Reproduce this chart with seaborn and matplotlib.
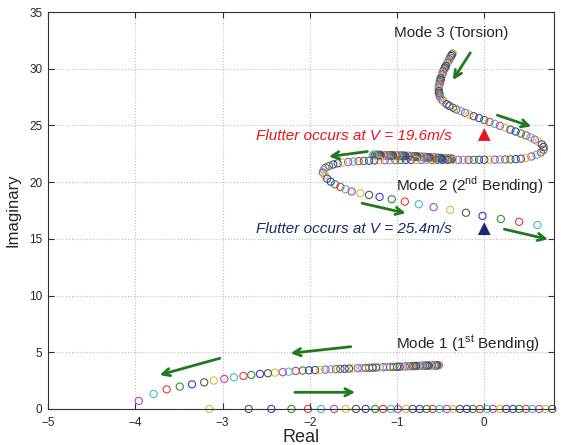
import pandas as pd
import numpy as np
import matplotlib
matplotlib.use('Agg')
import matplotlib.pyplot as plt
import seaborn as sns

sns.set_theme(style='white')
plt.rcParams['font.family'] = ['Liberation Sans', 'DejaVu Sans']
plt.rcParams['mathtext.fontset'] = 'custom'
plt.rcParams['mathtext.rm'] = 'Liberation Sans'

# ---- datos ----
# Modo 1 (1a flexión): rama compleja (de derecha a izquierda) y luego eje real
modo1_x = [-0.52, -0.53, -0.54, -0.55, -0.56, -0.57, -0.58, -0.60, -0.62, -0.64,
           -0.66, -0.68, -0.70, -0.72, -0.74, -0.76, -0.78, -0.80, -0.82, -0.85,
           -0.88, -0.91, -0.94, -0.97, -1.00, -1.04, -1.08, -1.12, -1.16, -1.20,
           -1.24, -1.28, -1.32, -1.36, -1.40, -1.45, -1.50, -1.55, -1.60, -1.65,
           -1.70, -1.76, -1.82, -1.88, -1.94, -2.01, -2.08, -2.16, -2.24, -2.31,
           -2.40, -2.48, -2.57, -2.67, -2.76, -2.87, -2.98, -3.10, -3.21, -3.35,
           -3.49, -3.64, -3.79, -3.96]
modo1_y = [3.86, 3.86, 3.86, 3.85, 3.85, 3.85, 3.84, 3.84, 3.83, 3.83,
           3.82, 3.82, 3.81, 3.81, 3.80, 3.80, 3.79, 3.79, 3.78, 3.77,
           3.76, 3.75, 3.74, 3.73, 3.72, 3.71, 3.70, 3.69, 3.68, 3.67,
           3.66, 3.64, 3.63, 3.62, 3.60, 3.59, 3.57, 3.56, 3.54, 3.53,
           3.51, 3.49, 3.47, 3.45, 3.43, 3.41, 3.39, 3.35, 3.29, 3.24,
           3.20, 3.15, 3.09, 3.00, 2.91, 2.79, 2.65, 2.50, 2.35, 2.17,
           1.97, 1.73, 1.32, 0.71]
real_x = [-3.15, -2.70, -2.44, -2.21, -2.02, -1.87, -1.72, -1.59, -1.47, -1.36,
          -1.25, -1.16, -1.07, -0.99, -0.90, -0.82, -0.74, -0.66, -0.59, -0.51,
          -0.43, -0.36, -0.28, -0.20, -0.13, -0.05, 0.03, 0.10, 0.18, 0.25,
          0.33, 0.40, 0.48, 0.55, 0.63, 0.70, 0.78]
real_y = [0.0] * len(real_x)

# Modo 3 (torsión) -> vuelta -> rama que cruza en V = 25.4
modo3_x = [-0.36, -0.37, -0.38, -0.39, -0.40, -0.41, -0.42, -0.43, -0.44, -0.45,
           -0.46, -0.47, -0.48, -0.48, -0.49, -0.50, -0.50, -0.51, -0.51, -0.52,
           -0.52, -0.52, -0.52, -0.52, -0.51, -0.51, -0.50,
           -0.48, -0.46, -0.43, -0.40, -0.36, -0.32, -0.27, -0.22, -0.17, -0.12,
           -0.06, 0.00, 0.06, 0.12, 0.18, 0.24, 0.30, 0.36, 0.42, 0.48,
           0.53, 0.58, 0.62, 0.66, 0.68, 0.68, 0.65, 0.60, 0.54, 0.48,
           0.42, 0.36, 0.30, 0.24, 0.18, 0.12, 0.06, 0.00, -0.06, -0.12,
           -0.18, -0.24, -0.30, -0.36, -0.42, -0.48, -0.54, -0.60, -0.66, -0.72,
           -0.78, -0.84, -0.90, -0.96, -1.02, -1.08, -1.14, -1.20, -1.26, -1.32,
           -1.38, -1.44, -1.50, -1.56, -1.62, -1.68, -1.73, -1.78, -1.82, -1.84,
           -1.85, -1.83, -1.80, -1.76, -1.71, -1.65, -1.59, -1.52, -1.42, -1.32,
           -1.20, -1.06, -0.91, -0.75, -0.58, -0.39, -0.21, -0.02, 0.19, 0.40,
           0.61]
modo3_y = [31.36, 31.25, 31.12, 30.98, 30.84, 30.70, 30.55, 30.40, 30.25, 30.10,
           29.95, 29.80, 29.64, 29.48, 29.32, 29.16, 29.00, 28.84, 28.68, 28.52,
           28.36, 28.20, 28.04, 27.88, 27.72, 27.56, 27.40,
           27.22, 27.05, 26.88, 26.72, 26.56, 26.41, 26.26, 26.11, 25.96, 25.81,
           25.65, 25.48, 25.31, 25.14, 24.97, 24.80, 24.63, 24.46, 24.29, 24.12,
           23.94, 23.75, 23.55, 23.33, 23.10, 22.86, 22.62, 22.42, 22.26, 22.14,
           22.07, 22.03, 22.01, 22.00, 21.99, 21.98, 21.98, 21.97, 21.97, 21.96,
           21.96, 21.96, 21.96, 21.96, 21.96, 21.96, 21.96, 21.96, 21.96, 21.96,
           21.96, 21.96, 21.96, 21.95, 21.95, 21.94, 21.93, 21.92, 21.91, 21.89,
           21.87, 21.85, 21.82, 21.78, 21.73, 21.66, 21.56, 21.43, 21.27, 21.10,
           20.85, 20.60, 20.30, 20.04, 19.80, 19.58, 19.37, 19.18, 19.02, 18.87,
           18.70, 18.49, 18.28, 18.05, 17.79, 17.55, 17.30, 17.02, 16.75, 16.50,
           16.22]

# Modo 2 (2a flexión): nube densa en V baja
modo2_x = [-0.37, -0.39, -0.41, -0.43, -0.45, -0.47, -0.49, -0.51, -0.53, -0.55,
           -0.57, -0.59, -0.61, -0.63, -0.65, -0.67, -0.69, -0.71, -0.73, -0.75,
           -0.77, -0.79, -0.81, -0.83, -0.85, -0.87, -0.89, -0.91, -0.93, -0.95,
           -0.97, -0.99, -1.01, -1.03, -1.05, -1.07, -1.09, -1.11, -1.13, -1.15,
           -1.17, -1.19, -1.21, -1.23, -1.25, -1.27]
modo2_y = [22.05, 22.06, 22.07, 22.08, 22.09, 22.10, 22.11, 22.12, 22.13, 22.14,
           22.15, 22.16, 22.17, 22.18, 22.19, 22.20, 22.21, 22.22, 22.23, 22.24,
           22.25, 22.26, 22.27, 22.28, 22.29, 22.30, 22.31, 22.31, 22.32, 22.32,
           22.33, 22.33, 22.34, 22.34, 22.35, 22.35, 22.36, 22.36, 22.37, 22.37,
           22.38, 22.38, 22.39, 22.39, 22.40, 22.40]

# puntos de flameo (cruce del eje imaginario)
flutter_x = [0.0, 0.0]
flutter_y = [24.2, 15.9]
flutter_txt = ['Flutter occurs at V = 19.6m/s', 'Flutter occurs at V = 25.4m/s']

# flechas verdes (inicio, fin)
flechas = [((-0.16, 31.4), (-0.36, 29.0)),
           ((0.15, 25.9), (0.54, 24.9)),
           ((-1.34, 22.7), (-1.78, 22.25)),
           ((-1.40, 18.14), (-0.90, 17.26)),
           ((0.23, 15.85), (0.73, 14.96)),
           ((-1.53, 5.49), (-2.22, 4.91)),
           ((-3.03, 4.47), (-3.72, 3.0)),
           ((-2.17, 1.47), (-1.48, 1.47))]

# colores estilo MATLAB (b, g, r, c, m, y, k)
ciclo = ['#3a3ad0', '#2e8f2e', '#e03a3a', '#3cc0c0', '#c040c0', '#c8c43c', '#555555']

fig = plt.figure(figsize=(5.61, 4.45), dpi=100)
ax = fig.add_axes([0.0856, 0.081, 0.902, 0.892])


def serie(xs, ys, offset, clip=True, lw=0.8):
    d = pd.DataFrame({'x': xs, 'y': ys})
    d['c'] = (np.arange(len(d)) + offset) % 7
    n0 = len(ax.collections)
    sns.scatterplot(data=d, x='x', y='y', hue='c', palette=dict(enumerate(ciclo)),
                    marker='o', s=27, linewidth=lw, legend=False, ax=ax)
    coll = ax.collections[n0]
    coll.set_edgecolors(coll.get_facecolors())
    coll.set_facecolors('none')
    coll.set_clip_on(clip)


# modo 1: el último punto complejo es magenta (4)
serie(modo1_x, modo1_y, (4 - (len(modo1_x) - 1)) % 7)
serie(real_x, real_y, 5, clip=False)
serie(modo2_x, modo2_y, 0, lw=1.1)
# modo 3: último punto cian (3)
serie(modo3_x, modo3_y, (3 - (len(modo3_x) - 1)) % 7)

# triángulos de flameo
tri = pd.DataFrame({'x': flutter_x, 'y': flutter_y, 'k': ['a', 'b']})
sns.scatterplot(data=tri, x='x', y='y', hue='k', palette={'a': '#e8141c', 'b': '#1a2a6c'},
                marker='^', s=85, linewidth=0, legend=False, ax=ax, zorder=5)

for (x0, y0), (x1, y1) in flechas:
    ax.annotate('', xy=(x1, y1), xytext=(x0, y0),
                arrowprops=dict(arrowstyle='->', color='#1f7a1f', lw=2.0,
                                mutation_scale=13, shrinkA=0, shrinkB=0))

ax.text(-1.04, 33.15, 'Mode 3 (Torsion)', fontsize=11, va='center', ha='left')
ax.text(-1.01, 19.75, 'Mode 2 (2$^{\\mathregular{nd}}$ Bending)', fontsize=11,
        va='center', ha='left')
ax.text(-1.01, 5.7, 'Mode 1 (1$^{\\mathregular{st}}$ Bending)', fontsize=11,
        va='center', ha='left')
ax.text(-0.37, 24.07, flutter_txt[0], color='#e8141c', fontsize=11, style='italic',
        va='center', ha='right')
ax.text(-0.37, 15.87, flutter_txt[1], color='#1a2a6c', fontsize=11, style='italic',
        va='center', ha='right')

ax.set_xlim(-5, 0.8)
ax.set_ylim(0, 35)
ax.set_xticks([-5, -4, -3, -2, -1, 0])
ax.set_yticks([0, 5, 10, 15, 20, 25, 30, 35])
ax.grid(True, linestyle=':', color='#bdbdbd', linewidth=0.8)
ax.set_axisbelow(True)
ax.tick_params(direction='in', length=4, width=0.8, labelsize=8.5, color='#333333',
               top=True, right=True, bottom=True, left=True)
ax.tick_params(axis='x', pad=6)
ax.tick_params(axis='y', pad=4)
for sp in ax.spines.values():
    sp.set_color('#333333')
    sp.set_linewidth(0.8)
ax.set_xlabel('Real', fontsize=13, labelpad=0)
ax.set_ylabel('Imaginary', fontsize=12, labelpad=6)

fig.savefig('out.png', dpi=100)
